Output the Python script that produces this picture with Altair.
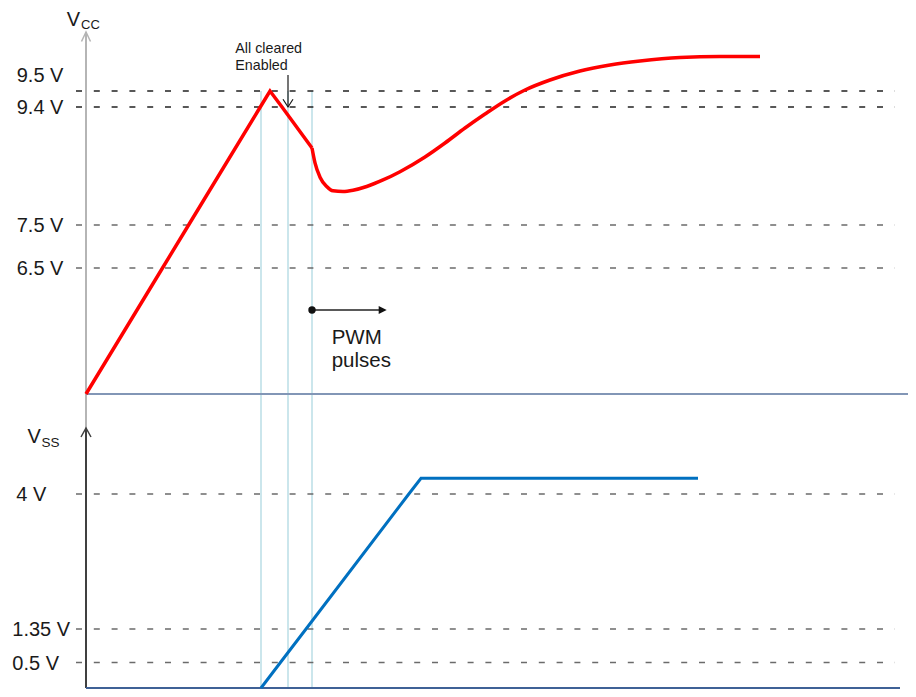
import altair as alt
import pandas as pd

# ---------------- data (time in arbitrary units, voltages in V) ----------------
ramp_t = [0, 76.5, 102.6, 174.3, 184, 196, 226]
ramp_v = [0, 6.5, 7.5, 9.4, 9.5, 9.4, 8.74]

recovery_t = [226, 229, 234, 240.7, 247, 257, 267, 280.7, 297, 314, 339, 359,
              379, 399, 419, 439, 464, 494, 524, 554, 594, 634, 674]
recovery_v = [8.74, 8.50, 8.27, 8.12, 8.05, 8.04, 8.06, 8.12, 8.225, 8.358, 8.595,
              8.820, 9.062, 9.287, 9.438, 9.525, 9.780, 10.008, 10.161, 10.263,
              10.352, 10.377, 10.377]

vss_t = [175, 194.4, 220, 322.8, 335, 612]
vss_v = [0, 0.5, 1.35, 4, 4.31, 4.31]

vcc_levels = [9.5, 9.4, 7.5, 6.5]
vcc_labels = ["9.5 V", "9.4 V", "7.5 V", "6.5 V"]
vss_levels = [4, 1.35, 0.5]
vss_labels = ["4 V", "1.35 V", "0.5 V"]

event_t = [175, 202, 226]          # VSS start, "All cleared / Enabled", PWM start

ramp_df = pd.DataFrame({"t": ramp_t, "v": ramp_v})
rec_df = pd.DataFrame({"t": recovery_t, "v": recovery_v})
vss_df = pd.DataFrame({"t": vss_t, "v": vss_v})
vcc_lv = pd.DataFrame({"v": vcc_levels, "label": vcc_labels})
vss_lv = pd.DataFrame({"v": vss_levels, "label": vss_labels})
ev_df = pd.DataFrame({"t": event_t})
one = pd.DataFrame({"k": [0]})

FONT = "Liberation Sans"
TXT = "#1a1a1a"

XS = alt.Scale(domain=[-78, 822], range=[0, 900], nice=False, zero=False)
VCC_S = alt.Scale(domain=[0, 6.5, 7.5, 9.4, 9.5, 11],
                  range=[386, 260, 217, 99, 83, 24], nice=False, zero=False)
VSS_S = alt.Scale(domain=[0, 0.5, 1.35, 4, 5.3],
                  range=[680, 654.5, 621, 486, 420], nice=False, zero=False)


def xf(field="t"):
    return alt.X(f"{field}:Q", scale=XS, axis=None)


def xd(v):
    return alt.XDatum(v, type="quantitative", scale=XS, axis=None)


def yf(scale, field="v"):
    return alt.Y(f"{field}:Q", scale=scale, axis=None)


def yd(v, scale):
    return alt.YDatum(v, type="quantitative", scale=scale, axis=None)


def text(s, x, y, size, **kw):
    return alt.Chart(one).mark_text(text=s, font=FONT, fontSize=size, color=TXT,
                                    align="left", baseline="alphabetic", **kw).encode(
        x=alt.value(x), y=alt.value(y))


# ---------------- VCC panel ----------------
vlines = alt.Chart(ev_df).mark_rule(color="#a8d5df", strokeWidth=1.2).encode(
    x=xf(), y=yd(9.5, VCC_S), y2=alt.value(680))

dash_dark = alt.Chart(vcc_lv).transform_filter("datum.v >= 9.4").mark_rule(
    color="#222222", strokeWidth=1.3, strokeDash=[6, 11.8]).encode(
    y=yf(VCC_S), x=xd(-10), x2=alt.X2Datum(809))
dash_gray = alt.Chart(vcc_lv).transform_filter("datum.v < 9.4").mark_rule(
    color="#6b6b6b", strokeWidth=1.3, strokeDash=[6, 11.8]).encode(
    y=yf(VCC_S), x=xd(-10), x2=alt.X2Datum(809))

lab_95 = alt.Chart(vcc_lv).transform_filter("datum.v == 9.5").mark_text(
    font=FONT, fontSize=20, color=TXT, align="left", baseline="middle", dy=-15).encode(
    y=yf(VCC_S), x=alt.value(8.7), text="label:N")
lab_top = alt.Chart(vcc_lv).transform_filter("datum.v < 9.5").mark_text(
    font=FONT, fontSize=20, color=TXT, align="left", baseline="middle", dy=1).encode(
    y=yf(VCC_S), x=alt.value(8.7), text="label:N")

vcc_axis = alt.Chart(one).mark_rule(color="#b5b5b5", strokeWidth=2).encode(
    x=xd(0), y=yd(11, VCC_S), y2=alt.value(420))
vcc_arrow = alt.Chart(one).mark_point(shape="M-1,2.1L0,0L1,2.1", filled=False, size=81,
                                      color="#b5b5b5", strokeWidth=1.5, opacity=1).encode(
    x=xd(0), y=yd(11, VCC_S))
vcc_base = alt.Chart(one).mark_rule(color="#8296b6", strokeWidth=2).encode(
    x=xd(0), x2=alt.X2Datum(822), y=yd(0, VCC_S))

red_ramp = alt.Chart(ramp_df).mark_line(color="#ff0000", strokeWidth=3.5,
                                        strokeJoin="miter").encode(
    x=xf(), y=yf(VCC_S), order="t:Q")
red_rec = alt.Chart(rec_df).mark_line(color="#ff0000", strokeWidth=3.5,
                                      interpolate="monotone").encode(
    x=xf(), y=yf(VCC_S), order="t:Q")

en_shaft = alt.Chart(one).mark_rule(color=TXT, strokeWidth=1.2).encode(
    x=xd(event_t[1]), y=yd(9.4, VCC_S), y2=alt.value(67))
en_head = alt.Chart(one).mark_point(shape="M-1,-1.55L0,0L1,-1.55", filled=False, size=100,
                                    color=TXT, strokeWidth=1.2, opacity=1).encode(
    x=xd(event_t[1]), y=yd(9.4, VCC_S))

pwm_line = alt.Chart(one).mark_rule(color="#222222", strokeWidth=1.5).encode(
    x=xd(event_t[2]), x2=alt.X2Datum(296), y=alt.value(302))
pwm_dot = alt.Chart(one).mark_point(shape="circle", filled=True, size=55, color="#111111",
                                    opacity=1).encode(
    x=xd(event_t[2]), y=alt.value(302))
pwm_head = alt.Chart(one).mark_point(shape="M-2,-1L0,0L-2,1Z", filled=True, size=64,
                                     color="#111111", opacity=1).encode(
    x=xd(300.7), y=alt.value(302))

top = alt.layer(
    vlines, dash_dark, dash_gray, lab_95, lab_top, vcc_axis, vcc_arrow, vcc_base,
    red_ramp, red_rec, en_shaft, en_head, pwm_line, pwm_dot, pwm_head,
    text("V", 58.7, 18, 20), text("CC", 73, 21, 13),
    text("All cleared", 227.3, 44.7, 14.3), text("Enabled", 227.3, 62, 14.3),
    text("PWM", 323.7, 336, 20.5), text("pulses", 323.7, 359, 20.5),
)

# ---------------- VSS panel ----------------
vss_dash = alt.Chart(vss_lv).mark_rule(color="#6b6b6b", strokeWidth=1.3,
                                       strokeDash=[6, 11.8]).encode(
    y=yf(VSS_S), x=xd(-10), x2=alt.X2Datum(809))
lab_4 = alt.Chart(vss_lv).transform_filter("datum.v == 4").mark_text(
    font=FONT, fontSize=20, color=TXT, align="left", baseline="middle", dy=1).encode(
    y=yf(VSS_S), x=alt.value(8.2), text="label:N")
lab_low = alt.Chart(vss_lv).transform_filter("datum.v < 4").mark_text(
    font=FONT, fontSize=20, color=TXT, align="left", baseline="middle", dy=1).encode(
    y=yf(VSS_S), x=alt.value(4.3), text="label:N")

vss_axis = alt.Chart(one).mark_rule(color="#404040", strokeWidth=2).encode(
    x=xd(0), y=yd(5.3, VSS_S), y2=alt.Y2Datum(0))
vss_arrow = alt.Chart(one).mark_point(shape="M-1,1.8L0,0L1,1.8", filled=False, size=100,
                                      color="#404040", strokeWidth=1.5, opacity=1).encode(
    x=xd(0), y=yd(5.3, VSS_S))
vss_base = alt.Chart(one).mark_rule(color="#3f6196", strokeWidth=2).encode(
    x=xd(0), x2=alt.X2Datum(814), y=yd(0, VSS_S))
blue = alt.Chart(vss_df).mark_line(color="#0070c0", strokeWidth=3).encode(
    x=xf(), y=yf(VSS_S), order="t:Q")

bottom = alt.layer(
    vss_dash, lab_4, lab_low, vss_axis, vss_arrow, vss_base, blue,
    text("V", 19.5, 435, 20), text("SS", 33.5, 438.7, 13.5),
)

chart = alt.layer(top, bottom).resolve_scale(y="independent").properties(
    width=900, height=681, padding=0,
    autosize=alt.AutoSizeParams(type="none"),
).configure_view(stroke=None)

chart.save("out.html", embed_options={"renderer": "svg", "actions": False})
